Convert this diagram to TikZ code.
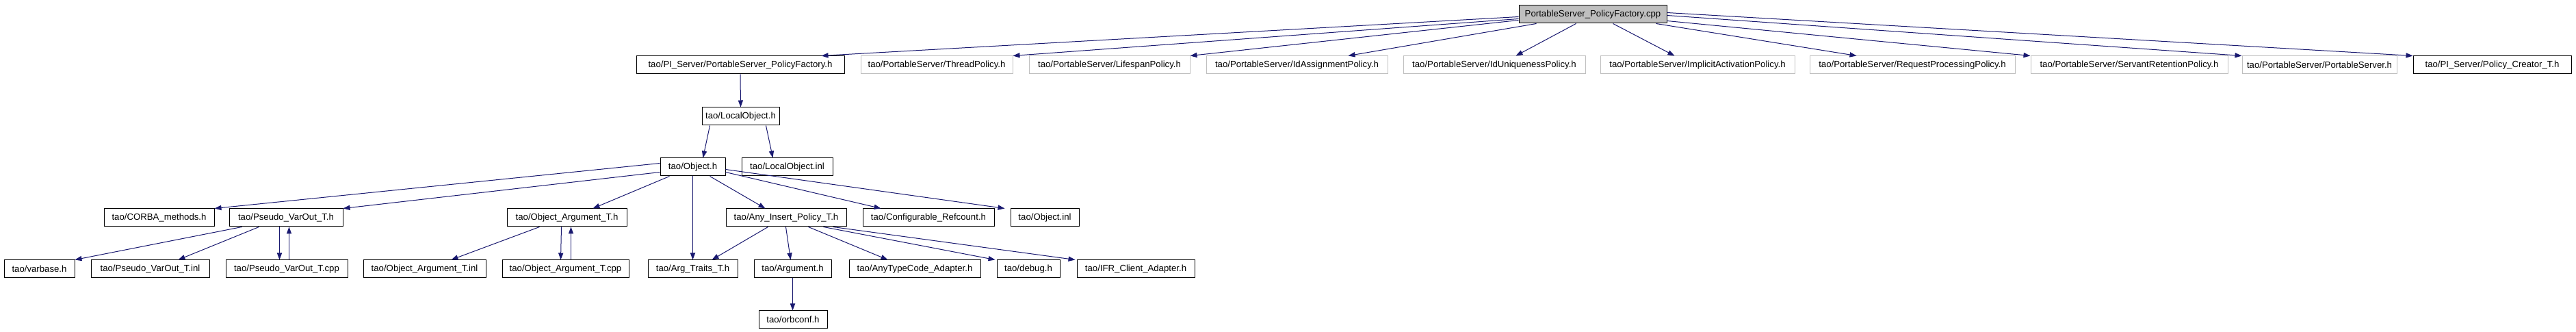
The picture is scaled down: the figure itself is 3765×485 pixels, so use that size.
\documentclass[tikz,border=0pt]{standalone}
\usepackage{fontspec}
\setmainfont{Liberation Sans}
\usetikzlibrary{arrows.meta,calc}
\definecolor{edgecol}{HTML}{191970}
\definecolor{greyc}{HTML}{BFBFBF}
\newcommand{\bx}[6]{\node[#6, minimum width={(#3-#2)*0.5pt}] (#1) at ({(#2+#3)/2}, {#4+13}) {#5};}
\begin{document}
\begin{tikzpicture}[x=0.5pt,y=-0.5pt,
  nbox/.style={draw=black, line width=0.5pt, inner sep=0pt, minimum height=13pt, font=\fontsize{6.6}{8}\selectfont, text=black},
  extbox/.style={nbox, draw=greyc},
  mainbox/.style={nbox, fill=greyc},
  edge/.style={draw=edgecol, line width=0.5pt, -{Triangle[length=5pt,width=3.6pt]}, fill=none}]
\useasboundingbox (0,0) rectangle (3765,485);
\fill[white] (0,0) rectangle (3765,485);
% row 0
\bx{top}{2220}{2436}{8}{PortableServer\_PolicyFactory.cpp}{mainbox}
% row 1
\bx{pfh}{930}{1234}{82}{tao/PI\_Server/PortableServer\_PolicyFactory.h}{nbox}
\bx{thr}{1258}{1480}{82}{tao/PortableServer/ThreadPolicy.h}{extbox}
\bx{life}{1504}{1739}{82}{tao/PortableServer/LifespanPolicy.h}{extbox}
\bx{ida}{1763}{2028}{82}{tao/PortableServer/IdAssignmentPolicy.h}{extbox}
\bx{idu}{2051}{2317}{82}{tao/PortableServer/IdUniquenessPolicy.h}{extbox}
\bx{impl}{2339}{2623}{82}{tao/PortableServer/ImplicitActivationPolicy.h}{extbox}
\bx{req}{2645}{2945}{82}{tao/PortableServer/RequestProcessingPolicy.h}{extbox}
\bx{serv}{2968}{3256}{82}{tao/PortableServer/ServantRetentionPolicy.h}{extbox}
\bx{ps}{3277}{3503}{82}{tao/PortableServer/PortableServer.h}{extbox}
\bx{pc}{3527}{3758}{82}{tao/PI\_Server/Policy\_Creator\_T.h}{nbox}
% row 2
\bx{lo}{1026}{1139}{157}{tao/LocalObject.h}{nbox}
% row 3
\bx{obj}{965}{1060}{231}{tao/Object.h}{nbox}
\bx{loinl}{1084}{1217}{231}{tao/LocalObject.inl}{nbox}
% row 4
\bx{corba}{152}{313}{305}{tao/CORBA\_methods.h}{nbox}
\bx{pvh}{335}{501}{305}{tao/Pseudo\_VarOut\_T.h}{nbox}
\bx{oah}{741}{916}{305}{tao/Object\_Argument\_T.h}{nbox}
\bx{aip}{1061}{1237}{305}{tao/Any\_Insert\_Policy\_T.h}{nbox}
\bx{cref}{1261}{1453}{305}{tao/Configurable\_Refcount.h}{nbox}
\bx{oinl}{1477}{1577}{305}{tao/Object.inl}{nbox}
% row 5
\bx{varb}{6}{109}{380}{tao/varbase.h}{nbox}
\bx{pvinl}{133}{306}{380}{tao/Pseudo\_VarOut\_T.inl}{nbox}
\bx{pvcpp}{330}{508}{380}{tao/Pseudo\_VarOut\_T.cpp}{nbox}
\bx{oainl}{531}{710}{380}{tao/Object\_Argument\_T.inl}{nbox}
\bx{oacpp}{734}{919}{380}{tao/Object\_Argument\_T.cpp}{nbox}
\bx{arg}{947}{1078}{380}{tao/Arg\_Traits\_T.h}{nbox}
\bx{argh}{1102}{1215}{380}{tao/Argument.h}{nbox}
\bx{atc}{1241}{1433}{380}{tao/AnyTypeCode\_Adapter.h}{nbox}
\bx{dbg}{1457}{1549}{380}{tao/debug.h}{nbox}
\bx{ifr}{1574}{1746}{380}{tao/IFR\_Client\_Adapter.h}{nbox}
% row 6
\bx{orb}{1109}{1209}{454}{tao/orbconf.h}{nbox}
% edges from top
\draw[edge] ([yshift=5pt]top.south west) -- ([xshift=-17pt]pfh.north east);
\draw[edge] ([yshift=3.5pt]top.south west) -- (thr.north east);
\draw[edge] ([yshift=2.5pt]top.south west) -- (life.north east);
\draw[edge] ([xshift=13pt]top.south west) -- ([xshift=-29pt]ida.north east);
\draw[edge] ([xshift=42pt]top.south west) -- ([xshift=-51pt]idu.north east);
\draw[edge] ([xshift=69pt]top.south west) -- ([xshift=54.5pt]impl.north west);
\draw[edge] ([xshift=-8pt]top.south east) -- ([xshift=34.5pt]req.north west);
\draw[edge] ([yshift=2pt]top.south east) -- (serv.north west);
\draw[edge] ([yshift=6pt]top.south east) -- (ps.north west);
\draw[edge] ([yshift=8pt]top.south east) -- (pc.north west);
% lower edges
\draw[edge] (pfh.south) -- (lo.north);
\draw[edge] ([xshift=6pt]lo.south west) -- ([xshift=31.5pt]obj.north west);
\draw[edge] ([xshift=-10pt]lo.south east) -- ([xshift=23pt]loinl.north west);
\draw[edge] ([yshift=-4pt]obj.north west) -- (corba.north east);
\draw[edge] ([yshift=3pt]obj.south west) -- (pvh.north east);
\draw[edge] ([xshift=7pt]obj.south west) -- ([xshift=-25pt]oah.north east);
\draw[edge] (obj.south) -- (arg.north);
\draw[edge] ([xshift=-11.5pt]obj.south east) -- ([xshift=29pt]aip.north west);
\draw[edge] ([yshift=3pt]obj.south east) -- ([xshift=13.5pt]cref.north west);
\draw[edge] ([yshift=5pt]obj.south east) -- ([xshift=-4pt]oinl.north west);
\draw[edge] ([xshift=9.5pt]pvh.south west) -- (varb.north east);
\draw[edge] ([xshift=22pt]pvh.south west) -- ([xshift=-23pt]pvinl.north east);
\draw[edge] ([xshift=37pt]pvh.south west) -- ([xshift=39.5pt]pvcpp.north west);
\draw[edge] ([xshift=46.5pt]pvcpp.north west) -- ([xshift=44pt]pvh.south west);
\draw[edge] ([xshift=24pt]oah.south west) -- ([xshift=-25.5pt]oainl.north east);
\draw[edge] ([xshift=40pt]oah.south west) -- ([xshift=43pt]oacpp.north west);
\draw[edge] ([xshift=50.5pt]oacpp.north west) -- ([xshift=47pt]oah.south west);
\draw[edge] ([xshift=31pt]aip.south west) -- ([xshift=-19pt]arg.north east);
\draw[edge] ([xshift=44pt]aip.south west) -- ([xshift=27pt]argh.north west);
\draw[edge] ([xshift=60.5pt]aip.south west) -- ([xshift=28.5pt]atc.north west);
\draw[edge] ([xshift=-17pt]aip.south east) -- ([xshift=-1pt]dbg.north west);
\draw[edge] ([xshift=-10pt]aip.south east) -- ([xshift=-1pt]ifr.north west);
\draw[edge] ([xshift=28.5pt]argh.south west) -- ([xshift=25pt]orb.north west);
\end{tikzpicture}
\end{document}
